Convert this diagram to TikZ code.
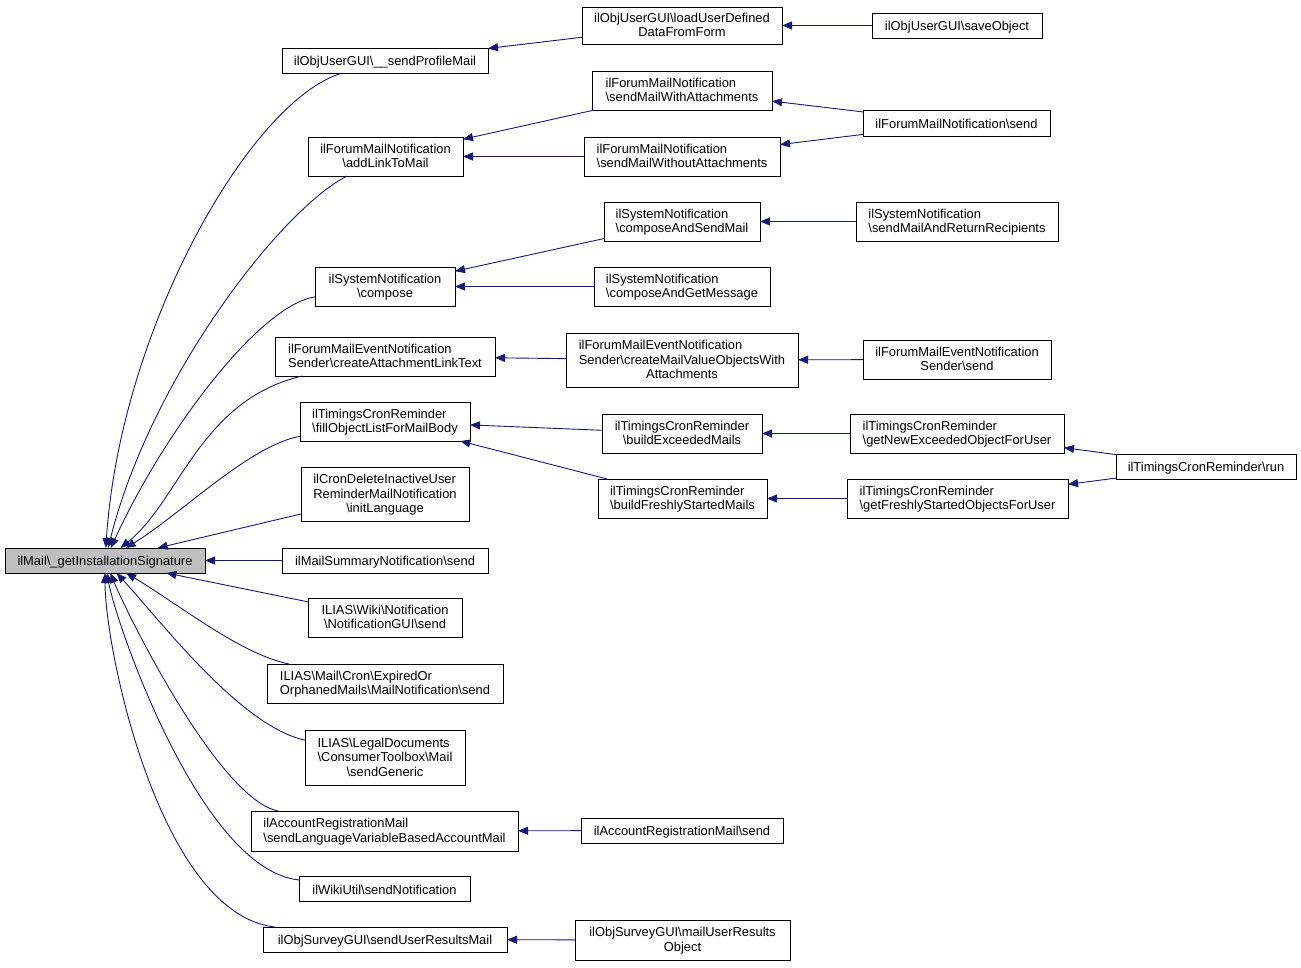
\documentclass[tikz,border=0pt]{standalone}
\usepackage{fontspec}
\setmainfont{Liberation Sans}
\usetikzlibrary{arrows.meta}
\definecolor{edgeblue}{HTML}{191970}
\definecolor{maingray}{HTML}{BFBFBF}
\newcommand\bs{\textbackslash}
\newcommand\tl[2]{\begin{tabular}{@{}l@{}}#1\\\multicolumn{1}{@{}c@{}}{#2}\end{tabular}}
\newcommand\bx[7][]{\node[box,#1,minimum width={(#5-#3)*1pt},minimum height={(#6-#4)*1pt}] (#2) at ({(#3+#5)/2},{(#4+#6)/2}) {\raisebox{-1.3pt}[\height][\depth]{#7}};}
\tikzset{
  box/.style={draw=black,line width=1pt,fill=white,inner sep=0pt,outer sep=0pt,
    font=\fontsize{12.9}{14.5}\selectfont},
  edge/.style={draw=edgeblue,line width=0.9pt,-{Triangle[length=10pt,width=8pt]}},
}
\begin{document}
\begin{tikzpicture}[x=1pt,y=-1pt]
\useasboundingbox (0,0) rectangle (1301,967);
\fill[white] (0,0) rectangle (1301,967);
% nodes
\bx[fill=maingray]{main}{5}{548}{205}{573}{ilMail\bs\_getInstallationSignature}
\bx{po}{282}{48}{488}{73}{ilObjUserGUI\bs\_\_sendProfileMail}
\bx{lu}{582}{7}{782}{44}{\tl{ilObjUserGUI\bs loadUserDefined}{DataFromForm}}
\bx{so}{872}{13}{1042}{38}{ilObjUserGUI\bs saveObject}
\bx{al}{308}{137}{463}{176}{\tl{ilForumMailNotification}{\bs addLinkToMail}}
\bx{sw}{592}{71}{772}{110}{\tl{ilForumMailNotification}{\bs sendMailWithAttachments}}
\bx{swo}{584}{137}{780}{176}{\tl{ilForumMailNotification}{\bs sendMailWithoutAttachments}}
\bx{fs}{863}{110}{1050}{136}{ilForumMailNotification\bs send}
\bx{co}{315}{267}{455}{306}{\tl{ilSystemNotification}{\bs compose}}
\bx{cs}{604}{202}{760}{241}{\tl{ilSystemNotification}{\bs composeAndSendMail}}
\bx{sr}{856}{202}{1058}{241}{\tl{ilSystemNotification}{\bs sendMailAndReturnRecipients}}
\bx{cg}{594}{267}{770}{306}{\tl{ilSystemNotification}{\bs composeAndGetMessage}}
\bx{ca}{275}{337}{495}{376}{\tl{ilForumMailEventNotification}{Sender\bs createAttachmentLinkText}}
\bx{cm}{566}{333}{798}{387}{\tl{ilForumMailEventNotification\\Sender\bs createMailValueObjectsWith}{Attachments}}
\bx{es}{863}{340}{1051}{379}{\tl{ilForumMailEventNotification}{Sender\bs send}}
\bx{fo}{300}{402}{470}{441}{\tl{ilTimingsCronReminder}{\bs fillObjectListForMailBody}}
\bx{be}{602}{414}{762}{453}{\tl{ilTimingsCronReminder}{\bs buildExceededMails}}
\bx{ge}{850}{414}{1064}{453}{\tl{ilTimingsCronReminder}{\bs getNewExceededObjectForUser}}
\bx{ru}{1116}{454}{1296}{479}{ilTimingsCronReminder\bs run}
\bx{bf}{598}{479}{767}{518}{\tl{ilTimingsCronReminder}{\bs buildFreshlyStartedMails}}
\bx{gf}{847}{479}{1068}{518}{\tl{ilTimingsCronReminder}{\bs getFreshlyStartedObjectsForUser}}
\bx{il}{301}{467}{469}{521}{\tl{ilCronDeleteInactiveUser\\ReminderMailNotification}{\bs initLanguage}}
\bx{ms}{282}{548}{488}{573}{ilMailSummaryNotification\bs send}
\bx{wn}{308}{598}{462}{637}{\tl{ILIAS\bs Wiki\bs Notification}{\bs NotificationGUI\bs send}}
\bx{ex}{267}{664}{503}{703}{\tl{ILIAS\bs Mail\bs Cron\bs ExpiredOr}{OrphanedMails\bs MailNotification\bs send}}
\bx{ld}{305}{730}{465}{785}{\tl{ILIAS\bs LegalDocuments\\\bs ConsumerToolbox\bs Mail}{\bs sendGeneric}}
\bx{ar}{251}{811}{518}{851}{\tl{ilAccountRegistrationMail}{\bs sendLanguageVariableBasedAccountMail}}
\bx{as}{581}{818}{783}{843}{ilAccountRegistrationMail\bs send}
\bx{wu}{299}{876}{470}{901}{ilWikiUtil\bs sendNotification}
\bx{su}{263}{927}{507}{952}{ilObjSurveyGUI\bs sendUserResultsMail}
\bx{mu}{575}{920}{790}{960}{\tl{ilObjSurveyGUI\bs mailUserResults}{Object}}
% straight edges
\draw[edge] (lu) -- (po);
\draw[edge] (so) -- (lu);
\draw[edge] (sw) -- (al);
\draw[edge] (swo) -- (al);
\draw[edge] (fs) -- (sw);
\draw[edge] (fs) -- (swo);
\draw[edge] (cs) -- (co);
\draw[edge] (cg) -- (co);
\draw[edge] (sr) -- (cs);
\draw[edge] (cm) -- (ca);
\draw[edge] (es) -- (cm);
\draw[edge] (be) -- (fo);
\draw[edge] (bf) -- (fo);
\draw[edge] (ge) -- (be);
\draw[edge] (gf) -- (bf);
\draw[edge] (ru) -- (ge);
\draw[edge] (ru) -- (gf);
\draw[edge] (as) -- (ar);
\draw[edge] (mu) -- (su);
\draw[edge] (ms) -- (main);
\draw[edge] (il) -- (main);
\draw[edge] (wn) -- (main);
% curved edges to main
\draw[edge] (po) .. controls (250,100) and (120,330) .. (main);
\draw[edge] (al) .. controls (280,210) and (150,380) .. (main);
\draw[edge] (co) .. controls (260,305) and (165,430) .. (main);
\draw[edge] (ca) .. controls (200,400) and (180,500) .. (main);
\draw[edge] (fo) .. controls (250,445) and (180,515) .. (main);
\draw[edge] (ex) .. controls (240,654) and (180,605) .. (main);
\draw[edge] (ld) .. controls (240,726) and (160,620) .. (main);
\draw[edge] (ar) .. controls (220,800) and (130,620) .. (main);
\draw[edge] (wu) .. controls (200,870) and (115,620) .. (main);
\draw[edge] (su) .. controls (160,914) and (105,650) .. (main);
\end{tikzpicture}
\end{document}
